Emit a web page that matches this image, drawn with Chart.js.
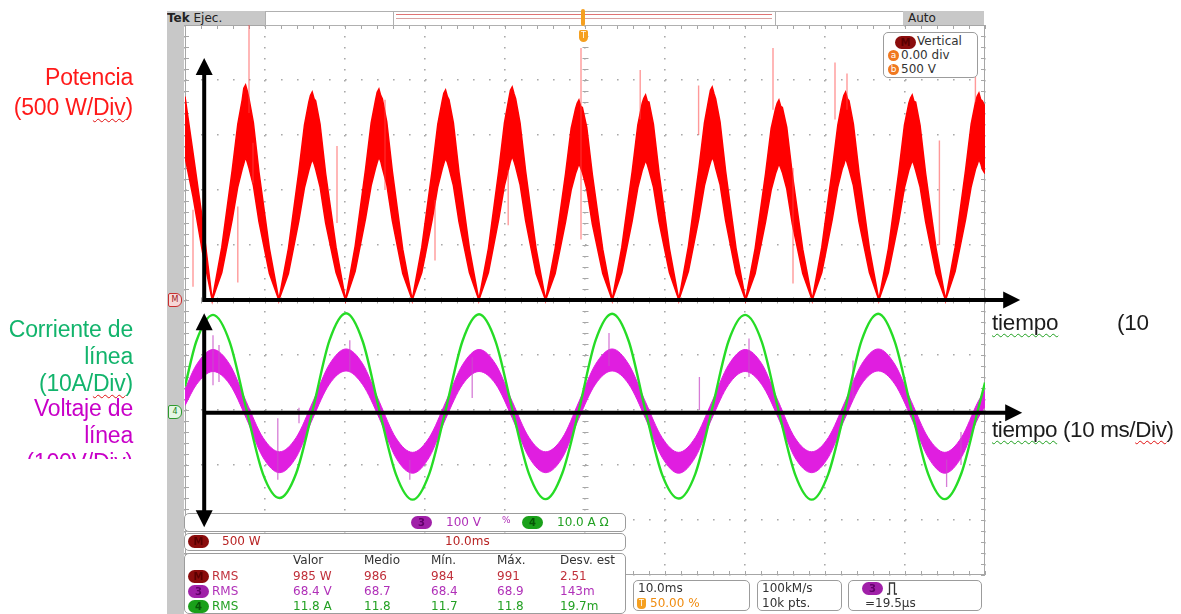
<!DOCTYPE html>
<html>
<head>
<meta charset="utf-8">
<script src="https://cdn.jsdelivr.net/npm/chart.js@4.4.1/dist/chart.umd.min.js"></script>
<style>
  body { margin:0; background:#fff; }
  #wrap { position:relative; width:1181px; height:614px; overflow:hidden; font-family:"DejaVu Sans", sans-serif; font-size:12px; color:#333; }
  #scope, #arrows { position:absolute; left:0; top:0; }
  #scope { z-index:1; }
  #arrows { z-index:5; pointer-events:none; }
  .a { position:absolute; white-space:nowrap; z-index:3; }
  .box { position:absolute; background:#fff; border:1px solid #9c9c9c; border-radius:5px; box-sizing:border-box; z-index:2; }
  .pill { position:absolute; border-radius:7px; height:13px; width:21px; font-size:10px; line-height:13px; text-align:center; z-index:3; font-weight:bold; }
  .note { position:absolute; font-family:"Liberation Sans", Arial, sans-serif; font-size:23px; line-height:26px; white-space:nowrap; z-index:3; letter-spacing:-0.2px; }
  .wr { text-decoration:underline wavy #e01010; text-decoration-skip-ink:none; text-underline-offset:3px; text-decoration-thickness:1px; }
  .wg { text-decoration:underline wavy #20a020; text-decoration-skip-ink:none; text-underline-offset:3px; text-decoration-thickness:1px; }
  .circ { position:absolute; width:11px; height:11px; border-radius:6px; background:#f07820; color:#fff; font-size:9px; line-height:11px; text-align:center; z-index:3; }
</style>
</head>
<body>
<div id="wrap">
  <canvas id="scope" width="1181" height="614"></canvas>
  <canvas id="arrows" width="1181" height="614"></canvas>

  <!-- left grey frame and channel markers -->
  <div class="a" style="left:167px;top:11px;width:17px;height:603px;background:#c8c8c8;z-index:2;"></div>
  <div class="a" style="left:168px;top:293px;width:12px;height:12px;border:1px solid #c83030;background:#f6d8d8;color:#a01818;font-size:8px;line-height:12px;text-align:center;border-radius:2px 6px 6px 2px;">M</div>
  <div class="a" style="left:168px;top:405px;width:12px;height:12px;border:1px solid #2e9a2e;background:#e4f6e4;color:#208020;font-size:8px;line-height:12px;text-align:center;border-radius:2px 6px 6px 2px;">4</div>

  <!-- top status bar -->
  <div class="a" style="left:167px;top:11px;width:98px;height:14px;background:#c8c8c8;line-height:14px;color:#222;"><b>Tek</b> Ejec.</div>
  <div class="a" style="left:265px;top:11px;width:128px;height:13px;border:1px solid #b0b0b0;background:#fff;"></div>
  <div class="a" style="left:393px;top:11px;width:382px;height:13px;border:1px solid #b0b0b0;background:#fff;"></div>
  <div class="a" style="left:396px;top:14px;width:376px;height:3px;border-top:1px solid #e07474;border-bottom:1px solid #d8a0a0;"></div>
  <div class="a" style="left:775px;top:11px;width:128px;height:13px;border:1px solid #b0b0b0;background:#fff;"></div>
  <div class="a" style="left:903px;top:11px;width:81px;height:14px;background:#c8c8c8;line-height:14px;color:#222;padding-left:5px;box-sizing:border-box;">Auto</div>
  <div class="a" style="left:581px;top:9px;width:4px;height:17px;background:#f5a020;border-radius:2px;z-index:4;"></div>
  <div class="a" style="left:579px;top:30px;width:9px;height:12px;background:#f5a020;border-radius:2px 2px 5px 5px;color:#fff;font-size:8px;line-height:12px;text-align:center;z-index:4;">T</div>

  <!-- vertical readout box -->
  <div class="box" style="left:883px;top:32px;width:95px;height:46px;"></div>
  <div class="pill" style="left:895px;top:36px;background:#8a0c0c;color:#5a0000;">M</div>
  <div class="a" style="left:917px;top:34px;color:#333;">Vertical</div>
  <div class="circ" style="left:888px;top:50px;">a</div>
  <div class="a" style="left:901px;top:48px;color:#333;">0.00 div</div>
  <div class="circ" style="left:888px;top:64px;">b</div>
  <div class="a" style="left:901px;top:62px;color:#333;">500 V</div>

  <!-- bottom left boxes -->
  <div class="box" style="left:184px;top:513px;width:442px;height:19px;"></div>
  <div class="pill" style="left:411px;top:516px;background:#a020a8;color:#600068;">3</div>
  <div class="a" style="left:446px;top:515px;color:#b030b8;">100 V</div>
  <div class="a" style="left:502px;top:515px;color:#b030b8;font-size:9px;">%</div>
  <div class="pill" style="left:522px;top:516px;background:#1aa01a;color:#075507;">4</div>
  <div class="a" style="left:557px;top:515px;color:#22a022;">10.0 A &#937;</div>

  <div class="box" style="left:184px;top:533px;width:442px;height:18px;"></div>
  <div class="pill" style="left:188px;top:535px;background:#8a0c0c;color:#5a0000;">M</div>
  <div class="a" style="left:222px;top:534px;color:#b82424;">500 W</div>
  <div class="a" style="left:445px;top:534px;color:#b82424;">10.0ms</div>

  <div class="box" style="left:184px;top:553px;width:442px;height:61px;"></div>
  <div class="a" style="left:293px;top:553px;">Valor</div>
  <div class="a" style="left:364px;top:553px;">Medio</div>
  <div class="a" style="left:431px;top:553px;">Mín.</div>
  <div class="a" style="left:497px;top:553px;">Máx.</div>
  <div class="a" style="left:560px;top:553px;">Desv. est</div>

  <div class="pill" style="left:188px;top:570px;background:#8a0c0c;color:#5a0000;">M</div>
  <div class="a" style="left:212px;top:569px;color:#c0303a;">RMS</div>
  <div class="a" style="left:293px;top:569px;color:#c0303a;">985 W</div>
  <div class="a" style="left:364px;top:569px;color:#c0303a;">986</div>
  <div class="a" style="left:431px;top:569px;color:#c0303a;">984</div>
  <div class="a" style="left:497px;top:569px;color:#c0303a;">991</div>
  <div class="a" style="left:560px;top:569px;color:#c0303a;">2.51</div>

  <div class="pill" style="left:188px;top:585px;background:#a020a8;color:#600068;">3</div>
  <div class="a" style="left:212px;top:584px;color:#b030b8;">RMS</div>
  <div class="a" style="left:293px;top:584px;color:#b030b8;">68.4 V</div>
  <div class="a" style="left:364px;top:584px;color:#b030b8;">68.7</div>
  <div class="a" style="left:431px;top:584px;color:#b030b8;">68.4</div>
  <div class="a" style="left:497px;top:584px;color:#b030b8;">68.9</div>
  <div class="a" style="left:560px;top:584px;color:#b030b8;">143m</div>

  <div class="pill" style="left:188px;top:600px;background:#1aa01a;color:#075507;">4</div>
  <div class="a" style="left:212px;top:599px;color:#22a022;">RMS</div>
  <div class="a" style="left:293px;top:599px;color:#22a022;">11.8 A</div>
  <div class="a" style="left:364px;top:599px;color:#22a022;">11.8</div>
  <div class="a" style="left:431px;top:599px;color:#22a022;">11.7</div>
  <div class="a" style="left:497px;top:599px;color:#22a022;">11.8</div>
  <div class="a" style="left:560px;top:599px;color:#22a022;">19.7m</div>

  <!-- bottom right boxes -->
  <div class="box" style="left:633px;top:580px;width:117px;height:31px;"></div>
  <div class="a" style="left:638px;top:581px;color:#333;">10.0ms</div>
  <div class="a" style="left:637px;top:598px;width:9px;height:11px;background:#f5a020;border-radius:2px 2px 4px 4px;color:#fff;font-size:8px;line-height:11px;text-align:center;">T</div>
  <div class="a" style="left:650px;top:596px;color:#f08c10;">50.00 %</div>

  <div class="box" style="left:757px;top:580px;width:85px;height:31px;"></div>
  <div class="a" style="left:762px;top:581px;color:#333;">100kM/s</div>
  <div class="a" style="left:762px;top:596px;color:#333;">10k pts.</div>

  <div class="box" style="left:848px;top:580px;width:134px;height:31px;"></div>
  <div class="pill" style="left:862px;top:582px;background:#a020a8;color:#600068;">3</div>
  <svg class="a" style="left:886px;top:581px;" width="12" height="14"><path d="M1 13 H3.5 V2 H8.5 V13 H11" fill="none" stroke="#333" stroke-width="1.3"/></svg>
  <div class="a" style="left:865px;top:596px;color:#333;">=19.5µs</div>

  <!-- annotations -->
  <div class="note" style="right:1048px;top:64px;color:#ff1a1a;">Potencia</div>
  <div class="note" style="right:1048px;top:94px;color:#ff1a1a;">(500 W/<span class="wr">Div</span>)</div>

  <div class="note" style="right:1048px;top:316px;color:#12b46c;">Corriente de</div>
  <div class="note" style="right:1048px;top:343px;color:#12b46c;">línea</div>
  <div class="note" style="right:1048px;top:370px;color:#12b46c;">(10A/<span class="wr">Div</span>)</div>

  <div class="a" style="left:0;top:395px;width:140px;height:64px;overflow:hidden;">
    <div class="note" style="right:7px;top:0;color:#c800c8;">Voltaje de</div>
    <div class="note" style="right:7px;top:27px;color:#c800c8;">línea</div>
    <div class="note" style="right:7px;top:54px;color:#c800c8;">(100V/Div)</div>
  </div>

  <div class="note" style="left:992px;top:310px;color:#1c1c1c;font-size:22.5px;"><span class="wg">tiempo</span></div>
  <div class="note" style="left:1117px;top:310px;color:#1c1c1c;font-size:22.5px;">(10</div>
  <div class="note" style="left:992px;top:417px;color:#1c1c1c;font-size:22.5px;letter-spacing:-0.4px;"><span class="wg">tiempo</span> (10 ms/<span class="wr">Div</span>)</div>
</div>

<script>
// time axis: 10 divisions of 10 ms
const timeTicks = [0, 10, 20, 30, 40, 50, 60, 70, 80, 90, 100];

// channel M (power, W): upper and lower edge of the noisy trace
const powerTime = [
  0, 1.0, 2.2,
  3.40, 4.60, 5.90, 6.60, 7.15, 7.35, 7.57, 7.80, 8.00, 8.55, 9.25, 10.55,
  11.73, 12.93, 14.23, 14.93, 15.48, 15.68, 15.90, 16.13, 16.33, 16.88, 17.58, 18.88,
  20.07, 21.27, 22.57, 23.27, 23.82, 24.02, 24.24, 24.47, 24.67, 25.22, 25.92, 27.22,
  28.40, 29.60, 30.90, 31.60, 32.15, 32.35, 32.57, 32.80, 33.00, 33.55, 34.25, 35.55,
  36.73, 37.93, 39.23, 39.93, 40.48, 40.68, 40.90, 41.13, 41.33, 41.88, 42.58, 43.88,
  45.07, 46.27, 47.57, 48.27, 48.82, 49.02, 49.24, 49.47, 49.67, 50.22, 50.92, 52.22,
  53.40, 54.60, 55.90, 56.60, 57.15, 57.35, 57.57, 57.80, 58.00, 58.55, 59.25, 60.55,
  61.73, 62.93, 64.23, 64.93, 65.48, 65.68, 65.90, 66.13, 66.33, 66.88, 67.58, 68.88,
  70.07, 71.27, 72.57, 73.27, 73.82, 74.02, 74.24, 74.47, 74.67, 75.22, 75.92, 77.22,
  78.40, 79.60, 80.90, 81.60, 82.15, 82.35, 82.57, 82.80, 83.00, 83.55, 84.25, 85.55,
  86.73, 87.93, 89.23, 89.93, 90.48, 90.68, 90.90, 91.13, 91.33, 91.88, 92.58, 93.88,
  95.07, 96.27, 97.57, 98.27, 98.82, 99.02, 99.24, 99.47, 99.67, 100
];
const powerUpper = [
  1850, 1340, 720,
  0, 480, 1180, 1600, 1820, 1925, 1955, 1895, 1830, 1610, 1160, 470,
  0, 470, 1170, 1590, 1800, 1860, 1890, 1830, 1810, 1600, 1150, 480,
  0, 490, 1190, 1610, 1820, 1888, 1918, 1858, 1830, 1620, 1170, 460,
  0, 480, 1180, 1600, 1810, 1879, 1909, 1849, 1820, 1610, 1160, 470,
  0, 470, 1180, 1610, 1830, 1906, 1936, 1876, 1830, 1610, 1170, 470,
  0, 470, 1150, 1560, 1740, 1788, 1818, 1760, 1750, 1570, 1140, 460,
  0, 480, 1170, 1590, 1790, 1834, 1864, 1804, 1800, 1600, 1160, 470,
  0, 490, 1190, 1610, 1830, 1906, 1936, 1876, 1830, 1620, 1170, 470,
  0, 470, 1150, 1560, 1740, 1788, 1818, 1760, 1750, 1570, 1140, 460,
  0, 480, 1180, 1590, 1800, 1860, 1890, 1830, 1810, 1600, 1160, 470,
  0, 470, 1170, 1590, 1790, 1834, 1864, 1804, 1800, 1590, 1150, 470,
  0, 480, 1180, 1600, 1800, 1852, 1882, 1822, 1810, 1760
];
const powerLower = [
  1300, 940, 430,
  0, 250, 730, 1030, 1190, 1240, 1300, 1250, 1200, 1040, 710, 240,
  0, 240, 720, 1020, 1180, 1230, 1280, 1240, 1190, 1030, 700, 250,
  0, 260, 740, 1040, 1200, 1250, 1300, 1260, 1200, 1050, 720, 240,
  0, 250, 730, 1030, 1190, 1240, 1290, 1250, 1200, 1040, 710, 250,
  0, 250, 740, 1040, 1200, 1260, 1310, 1260, 1210, 1050, 720, 240,
  0, 240, 710, 1000, 1150, 1190, 1240, 1200, 1160, 1010, 690, 240,
  0, 250, 720, 1020, 1180, 1220, 1270, 1230, 1180, 1030, 710, 250,
  0, 260, 740, 1040, 1200, 1250, 1300, 1260, 1200, 1050, 720, 240,
  0, 240, 710, 1000, 1150, 1190, 1240, 1200, 1160, 1010, 690, 240,
  0, 250, 730, 1030, 1190, 1230, 1290, 1240, 1190, 1040, 710, 250,
  0, 250, 720, 1020, 1180, 1220, 1270, 1230, 1180, 1030, 710, 240,
  0, 260, 730, 1030, 1190, 1230, 1280, 1240, 1190, 1150
];
// isolated glitches on the power trace: [ms, from W, to W]
const powerSpikes = [
  [1.0, 120, 820], [6.6, 160, 850], [8.0, 1700, 2500], [8.5, 1060, 1430],
  [19.0, 700, 1400], [25.0, 1000, 1820], [31.25, 360, 910], [40.4, 680, 1180],
  [49.5, 550, 2290], [56.9, 1640, 2090], [64.2, 1500, 1950], [73.5, 1730, 2290],
  [76.0, 150, 1200], [81.25, 1640, 2160], [82.75, 1730, 2060], [94.3, 500, 1450],
  [98.8, 1800, 2060]
];

// channels 3 (voltage, V) and 4 (current, A), sampled every 1/8 period
const lineTime = [
  0, 1.42, 3.50, 5.58, 7.66, 9.74, 11.82, 13.90, 15.98,
  18.05, 20.13, 22.21, 24.29, 26.37, 28.45, 30.53, 32.61,
  34.68, 36.76, 38.84, 40.92, 43.00, 45.08, 47.16, 49.24,
  51.31, 53.39, 55.47, 57.55, 59.63, 61.71, 63.79, 65.87,
  67.94, 70.02, 72.10, 74.18, 76.26, 78.34, 80.42, 82.50,
  84.57, 86.65, 88.73, 90.81, 92.89, 94.97, 97.05, 99.13, 100
];
const currentAmps = [
  4.3, 12.5, 17.3, 12.4, 0.2, -11.6, -16.0, -11.5, 0.1,
  12.6, 17.6, 12.5, 0.0, -11.7, -16.3, -11.6, 0.2,
  12.5, 17.4, 12.4, 0.1, -11.6, -16.2, -11.5, 0.0,
  12.6, 17.5, 12.5, -0.1, -11.7, -16.1, -11.6, 0.1,
  12.5, 17.3, 12.4, 0.0, -11.7, -16.3, -11.6, 0.1,
  12.6, 17.5, 12.4, 0.0, -11.6, -16.2, -11.5, 0.1, 5.0
];
const voltageUpper = [
  38, 82, 110, 83, 15, -50, -76, -50, 15,
  83, 111, 84, 15, -51, -77, -50, 15,
  82, 110, 83, 15, -50, -76, -51, 15,
  83, 111, 83, 15, -50, -77, -50, 15,
  82, 110, 84, 15, -51, -76, -50, 15,
  83, 111, 83, 15, -50, -77, -50, 15, 36
];
const voltageLower = [
  8, 46, 70, 47, -15, -86, -114, -86, -15,
  47, 71, 46, -15, -87, -115, -86, -15,
  46, 70, 47, -15, -86, -114, -87, -15,
  47, 71, 47, -15, -86, -115, -86, -15,
  46, 70, 46, -15, -87, -114, -86, -15,
  47, 71, 47, -15, -86, -115, -86, -15, 6
];
const voltageSpikes = [
  [3.5, 45, 136], [4.25, 51, 118], [11.6, -127, -15], [14.25, -24, 4],
  [20.6, 69, 127], [28.1, -127, -91], [35.9, 22, 96], [53.0, 80, 140],
  [64.3, 0, 60], [70.5, 60, 130], [83.5, 20, 90], [95.2, -140, -90], [97.0, -100, -40]
];

// annotation arrows (in data units of each channel)
const arrowAtMs = 2.4;
const timeArrowEndMs = 104.4;
const powerArrowTopW = 2200;
const currentArrowTopA = 17.6;
const currentArrowBottomA = -21.3;
const currentArrowLevelA = -0.5;

const pts = (xs, ys) => xs.map((t, i) => ({x: t, y: ys[i]}));
const spikePts = list => list.flatMap(([t, lo, hi]) => [{x: t, y: lo}, {x: t, y: hi}, {x: t, y: null}]);

const scopeGrid = {
  id: 'scopeGrid',
  beforeDatasetsDraw(chart) {
    const {ctx, chartArea: a, scales: {x, yP}} = chart;
    const cx = Math.round(x.getPixelForValue(50)) + 0.5;
    const cy = Math.round(yP.getPixelForValue(0)) + 0.5;
    const stepY = (yP.getPixelForValue(-500) - yP.getPixelForValue(0)) / 5;
    const stepX = (x.getPixelForValue(10) - x.getPixelForValue(0)) / 5;
    ctx.save();
    ctx.strokeStyle = '#a6a6a6';
    ctx.lineWidth = 1;
    ctx.strokeRect(a.left + 0.5, a.top + 0.5, a.width - 1, a.height - 1);
    ctx.beginPath();
    for (let y = a.top; y <= a.bottom + 0.1; y += stepY) {
      const yy = Math.round(y) + 0.5;
      ctx.moveTo(cx - 3, yy); ctx.lineTo(cx + 3, yy);
      ctx.moveTo(a.left, yy); ctx.lineTo(a.left + 4, yy);
      ctx.moveTo(a.right - 4, yy); ctx.lineTo(a.right, yy);
    }
    for (let xp = a.left; xp <= a.right + 0.1; xp += stepX) {
      const xx = Math.round(xp) + 0.5;
      ctx.moveTo(xx, cy - 3); ctx.lineTo(xx, cy + 3);
      ctx.moveTo(xx, a.top); ctx.lineTo(xx, a.top + 4);
      ctx.moveTo(xx, a.bottom - 4); ctx.lineTo(xx, a.bottom);
    }
    ctx.stroke();
    ctx.restore();
  }
};

function head(c, x, y, dx, dy) {
  // filled triangle pointing in direction (dx, dy)
  const len = 17, half = 8.5;
  c.beginPath();
  c.moveTo(x, y);
  c.lineTo(x - dx * len - dy * half, y - dy * len + dx * half);
  c.lineTo(x - dx * len + dy * half, y - dy * len - dx * half);
  c.closePath();
  c.fill();
}

const arrowLayer = {
  id: 'arrowLayer',
  afterDraw(chart) {
    const c = document.getElementById('arrows').getContext('2d');
    const {x, yP, yI} = chart.scales;
    c.clearRect(0, 0, 1181, 614);
    c.strokeStyle = '#000';
    c.fillStyle = '#000';
    c.lineWidth = 4;
    const ax = x.getPixelForValue(arrowAtMs);
    const xEnd = x.getPixelForValue(timeArrowEndMs);
    // power: vertical and time arrows
    const p0 = yP.getPixelForValue(0), pTop = yP.getPixelForValue(powerArrowTopW);
    c.beginPath();
    c.moveTo(ax, p0 + 2); c.lineTo(ax, pTop + 12);
    c.moveTo(ax - 2, p0); c.lineTo(xEnd - 12, p0);
    c.stroke();
    head(c, ax, pTop, 0, -1);
    head(c, xEnd, p0, 1, 0);
    // line current / voltage: double arrow and time arrow
    const iTop = yI.getPixelForValue(currentArrowTopA);
    const iBot = yI.getPixelForValue(currentArrowBottomA);
    const i0 = yI.getPixelForValue(currentArrowLevelA);
    c.beginPath();
    c.moveTo(ax, iTop + 12); c.lineTo(ax, iBot - 12);
    c.moveTo(ax - 2, i0); c.lineTo(xEnd - 12, i0);
    c.stroke();
    head(c, ax, iTop, 0, -1);
    head(c, ax, iBot, 0, 1);
    head(c, xEnd + 2, i0, 1, 0);
  }
};

const dotGrid = (dash) => ({
  grid: { color: '#a8a8a8', lineWidth: 1.6, drawTicks: false },
  border: { display: false, dash: dash }
});

new Chart(document.getElementById('scope'), {
  type: 'line',
  data: {
    datasets: [
      { label: 'Corriente', data: pts(lineTime, currentAmps), yAxisID: 'yI',
        borderColor: '#26dc26', borderWidth: 2.4, cubicInterpolationMode: 'monotone', order: 0 },
      { label: 'Voltaje picos', data: spikePts(voltageSpikes), yAxisID: 'yV',
        borderColor: 'rgba(200,80,200,0.75)', borderWidth: 1.3, spanGaps: false, order: 1 },
      { label: 'Voltaje max', data: pts(lineTime, voltageUpper), yAxisID: 'yV',
        borderColor: '#e01ee0', backgroundColor: '#e01ee0', borderWidth: 1,
        cubicInterpolationMode: 'monotone', fill: '+1', order: 2 },
      { label: 'Voltaje min', data: pts(lineTime, voltageLower), yAxisID: 'yV',
        borderColor: '#e01ee0', borderWidth: 1, cubicInterpolationMode: 'monotone', order: 3 },
      { label: 'Potencia picos', data: spikePts(powerSpikes), yAxisID: 'yP',
        borderColor: 'rgba(255,70,70,0.55)', borderWidth: 1.4, spanGaps: false, order: 4 },
      { label: 'Potencia max', data: pts(powerTime, powerUpper), yAxisID: 'yP',
        borderColor: '#ff0000', backgroundColor: '#ff0000', borderWidth: 1.5, fill: '+1', order: 5 },
      { label: 'Potencia min', data: pts(powerTime, powerLower), yAxisID: 'yP',
        borderColor: '#ff0000', borderWidth: 1.5, order: 6 }
    ]
  },
  options: {
    responsive: false,
    animation: false,
    events: [],
    layout: { padding: { left: 185, top: 25, right: 196, bottom: 39 } },
    elements: { point: { radius: 0 }, line: { tension: 0 } },
    plugins: { legend: { display: false }, tooltip: { enabled: false } },
    scales: {
      x: {
        type: 'linear', min: timeTicks[0], max: timeTicks[timeTicks.length - 1], offset: false,
        ticks: { display: false, stepSize: 10 },
        afterFit(s) { s.height = 0; },
        ...dotGrid([1.6, 9.4])
      },
      yP: {
        type: 'linear', position: 'left', min: -2500, max: 2500,
        ticks: { display: false, stepSize: 500 },
        afterFit(s) { s.width = 0; },
        ...dotGrid([1.6, 14.4])
      },
      yI: { type: 'linear', display: false, min: -30, max: 70 },
      yV: { type: 'linear', display: false, min: -300, max: 700 }
    }
  },
  plugins: [scopeGrid, arrowLayer]
});
</script>
</body>
</html>
